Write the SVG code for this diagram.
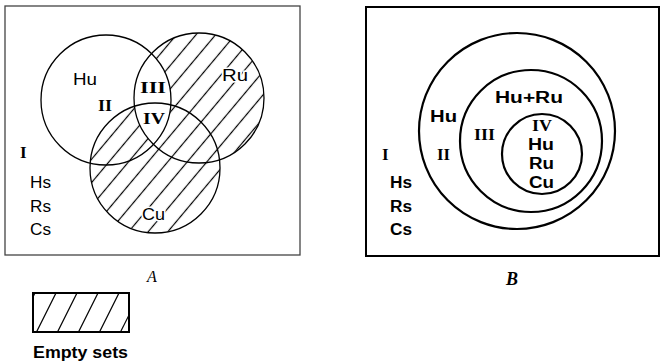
<svg xmlns="http://www.w3.org/2000/svg" width="660" height="364" viewBox="0 0 660 364">
<style>
.bg{fill:#fff}
.frameA{fill:none;stroke:#444;stroke-width:1.3}
.frameB{fill:none;stroke:#000;stroke-width:2}
.cA{fill:none;stroke:#000;stroke-width:1.3}
.cB{fill:none;stroke:#000;stroke-width:2.2}
.sA{font-family:"Liberation Sans",Arial,sans-serif;font-size:16px;fill:#000}
.rA{font-family:"Liberation Serif","Times New Roman",serif;font-size:17px;font-weight:bold;fill:#000}
.sB{font-family:"Liberation Sans",Arial,sans-serif;font-size:16px;font-weight:bold;fill:#000}
.rB{font-family:"Liberation Serif","Times New Roman",serif;font-size:17px;font-weight:bold;fill:#000}
.cap{font-family:"Liberation Serif","Times New Roman",serif;font-style:italic;fill:#000}
.hl{stroke:#000;stroke-width:1.2}
.halo{stroke:#fff;stroke-width:3;paint-order:stroke}
</style>
<defs>
<pattern id="hatch" patternUnits="userSpaceOnUse" width="15" height="15" patternTransform="rotate(40)">
<line x1="7.5" y1="0" x2="7.5" y2="15" class="hl"/>
</pattern>
<clipPath id="ruCu">
<circle cx="199" cy="98" r="65"/>
<circle cx="155" cy="168" r="65"/>
</clipPath>
<clipPath id="ruOnly">
<circle cx="199" cy="98" r="65"/>
</clipPath>
<mask id="noHuRu" maskUnits="userSpaceOnUse" x="0" y="0" width="660" height="364">
<rect x="0" y="0" width="660" height="364" fill="#fff"/>
<circle cx="106" cy="100" r="65" fill="#000" clip-path="url(#ruOnly)"/>
</mask>
<clipPath id="legClip">
<rect x="33" y="293" width="96" height="39"/>
</clipPath>
</defs>
<rect class="bg" x="0" y="0" width="660" height="364"/>

<g id="panelA">
<rect class="frameA" x="5" y="6" width="295" height="249"/>
<g id="hatchA" clip-path="url(#ruCu)">
<rect x="80" y="25" width="200" height="215" fill="url(#hatch)" mask="url(#noHuRu)"/>
</g>
<g id="Hu"><circle class="cA" cx="106" cy="100" r="65"/></g>
<g id="Ru"><circle class="cA" cx="199" cy="98" r="65"/></g>
<g id="Cu"><circle class="cA" cx="155" cy="168" r="65"/></g>
<text class="sA" x="73" y="85" textLength="24" lengthAdjust="spacingAndGlyphs">Hu</text>
<text class="sA halo" x="222" y="81" textLength="26" lengthAdjust="spacingAndGlyphs">Ru</text>
<text class="sA halo" x="142" y="220" textLength="23" lengthAdjust="spacingAndGlyphs">Cu</text>
<text class="rA" x="140" y="93" textLength="26" lengthAdjust="spacingAndGlyphs">III</text>
<text class="rA" x="98" y="111" textLength="14" lengthAdjust="spacingAndGlyphs">II</text>
<text class="rA" x="143" y="124" textLength="22" lengthAdjust="spacingAndGlyphs">IV</text>
<text class="rA" x="20" y="158">I</text>
<text class="sA" x="30" y="188" textLength="21" lengthAdjust="spacingAndGlyphs">Hs</text>
<text class="sA" x="30" y="212" textLength="21" lengthAdjust="spacingAndGlyphs">Rs</text>
<text class="sA" x="30" y="235" textLength="21" lengthAdjust="spacingAndGlyphs">Cs</text>
<text class="cap" x="147" y="282" font-size="16">A</text>
</g>

<g id="panelB">
<rect class="frameB" x="366" y="7" width="293" height="249"/>
<g id="outer"><circle class="cB" cx="517" cy="131" r="98"/></g>
<g id="middle"><circle class="cB" cx="531" cy="141" r="71"/></g>
<g id="inner"><circle class="cB" cx="542" cy="154" r="40"/></g>
<text class="sB" x="430" y="122" textLength="27" lengthAdjust="spacingAndGlyphs">Hu</text>
<text class="rB" x="437" y="160" textLength="13" lengthAdjust="spacingAndGlyphs">II</text>
<text class="rB" x="382" y="160">I</text>
<text class="sB" x="390" y="188" textLength="22" lengthAdjust="spacingAndGlyphs">Hs</text>
<text class="sB" x="390" y="212" textLength="22" lengthAdjust="spacingAndGlyphs">Rs</text>
<text class="sB" x="390" y="235" textLength="22" lengthAdjust="spacingAndGlyphs">Cs</text>
<text class="sB" x="495" y="103" textLength="68" lengthAdjust="spacingAndGlyphs">Hu+Ru</text>
<text class="rB" x="474" y="140" textLength="21" lengthAdjust="spacingAndGlyphs">III</text>
<text class="rB" x="532" y="131" textLength="20" lengthAdjust="spacingAndGlyphs">IV</text>
<text class="sB" x="528" y="150" textLength="26" lengthAdjust="spacingAndGlyphs">Hu</text>
<text class="sB" x="529" y="169" textLength="25" lengthAdjust="spacingAndGlyphs">Ru</text>
<text class="sB" x="529" y="188" textLength="25" lengthAdjust="spacingAndGlyphs">Cu</text>
<text class="cap" x="506" y="285" font-size="18" font-weight="bold">B</text>
</g>

<g id="legend">
<g clip-path="url(#legClip)">
<line class="hl" x1="15" y1="333" x2="35" y2="293"/>
<line class="hl" x1="36" y1="333" x2="56" y2="293"/>
<line class="hl" x1="57" y1="333" x2="77" y2="293"/>
<line class="hl" x1="78" y1="333" x2="98" y2="293"/>
<line class="hl" x1="99" y1="333" x2="119" y2="293"/>
<line class="hl" x1="120" y1="333" x2="140" y2="293"/>
</g>
<rect x="33" y="293" width="96" height="39" fill="none" stroke="#000" stroke-width="2"/>
<text class="sB" x="33" y="358" font-size="14" textLength="95" lengthAdjust="spacingAndGlyphs">Empty sets</text>
</g>
</svg>
